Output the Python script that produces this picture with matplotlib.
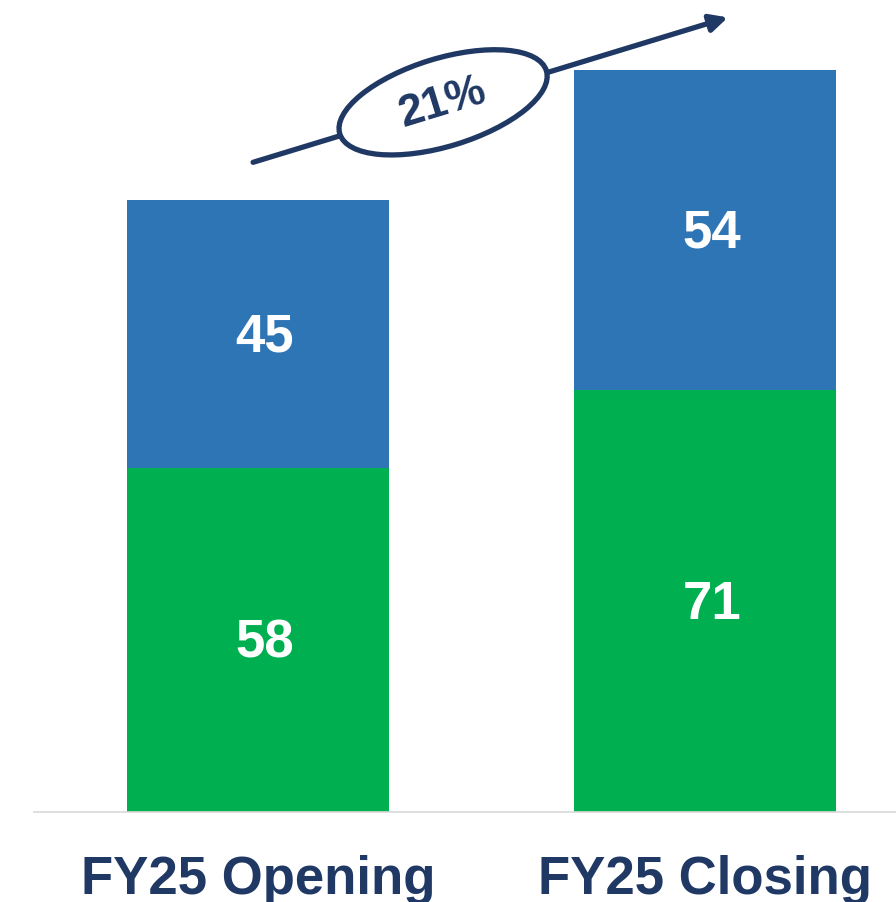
import matplotlib
matplotlib.use("Agg")
import matplotlib.pyplot as plt
from matplotlib.patches import Ellipse
from matplotlib.transforms import ScaledTranslation

plt.rcParams['font.family'] = ['Liberation Sans', 'DejaVu Sans']

# stacked values per period
categories = ["FY25 Opening", "FY25 Closing"]
green_vals = [58, 71]
blue_vals = [45, 54]
growth_label = "21%"

NAVY = "#1F3864"
BLUE = "#2E75B6"
GREEN = "#00B050"

fig = plt.figure(figsize=(8.96, 9.03), dpi=100)
ax = fig.add_axes([34 / 896, 90 / 903, 862 / 896, 813 / 903])

x = list(range(len(categories)))
w = 0.586
ax.bar(x, green_vals, width=w, color=GREEN, zorder=2)
ax.bar(x, blue_vals, width=w, bottom=green_vals, color=BLUE, zorder=2)

# value labels in the middle of each segment
for i in x:
    g, b = green_vals[i], blue_vals[i]
    for val, mid in [(g, g / 2), (b, g + b / 2)]:
        ax.annotate(str(val), xy=(i, mid), xytext=(5, -2), textcoords="offset points",
                    ha="center", va="center", fontsize=38, fontweight="bold",
                    color="white", zorder=3)
    ax.annotate(categories[i], xy=(i, 0), xytext=(0, -58), textcoords="offset points",
                ha="center", va="baseline", fontsize=38, fontweight="bold",
                color=NAVY, annotation_clip=False)

ax.set_xlim(-0.501, 1.427)
ax.set_ylim(0, 136.9)
for s in ["top", "right", "left"]:
    ax.spines[s].set_visible(False)
ax.spines["bottom"].set_color("#D9D9D9")
ax.spines["bottom"].set_linewidth(1.2)
ax.set_xticks([])
ax.set_yticks([])

# growth arrow with ellipse badge
ax.annotate("", xy=(1.051, 133.8), xytext=(-0.011, 109.4),
            arrowprops=dict(arrowstyle="-|>", lw=3.8, color=NAVY, mutation_scale=26,
                            shrinkA=0, shrinkB=0),
            annotation_clip=False, zorder=4)
cx, cy = 0.414, 119.5
ell = Ellipse((0, 0), 2.16, 0.88, angle=17, facecolor="white", edgecolor=NAVY, lw=3.8,
              transform=fig.dpi_scale_trans + ScaledTranslation(cx, cy, ax.transData),
              zorder=5, clip_on=False)
ax.add_patch(ell)
ax.text(cx, cy, growth_label, rotation=17, ha="center", va="center", fontsize=32,
        fontweight="bold", color=NAVY, zorder=6, rotation_mode="anchor")

fig.savefig("out.png", dpi=100)
